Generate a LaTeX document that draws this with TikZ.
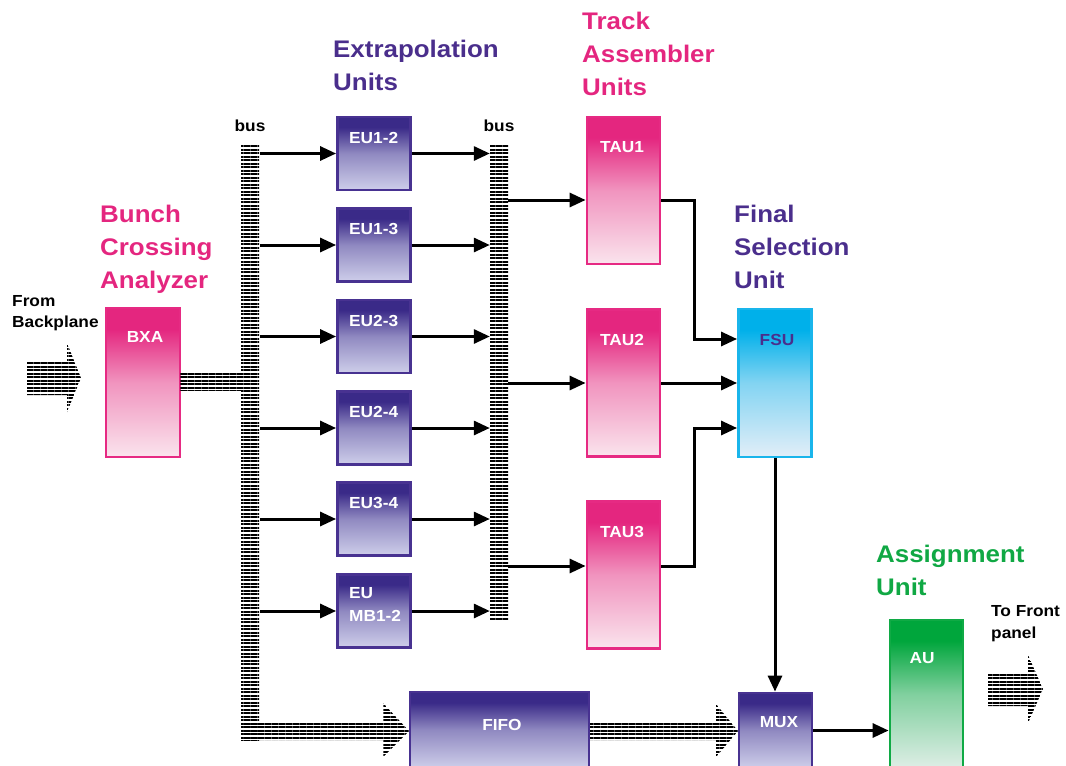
\documentclass[tikz,border=0pt]{standalone}
\usepackage{fontspec}
\setmainfont{Liberation Sans}[FakeStretch=1.08]
\usetikzlibrary{arrows.meta,patterns.meta,calc}
\definecolor{pinkD}{RGB}{228,38,127}
\definecolor{pinkL}{RGB}{250,228,237}
\definecolor{purpD}{RGB}{58,42,136}
\definecolor{purpL}{RGB}{206,206,234}
\definecolor{cyanD}{RGB}{0,176,234}
\definecolor{cyanL}{RGB}{226,238,248}
\definecolor{greenD}{RGB}{0,166,60}
\definecolor{greenL}{RGB}{222,238,230}
\definecolor{purpT}{RGB}{74,46,140}
\definecolor{pinkB}{RGB}{230,42,131}
\definecolor{purpB}{RGB}{72,50,145}
\definecolor{cyanB}{RGB}{25,181,235}
\definecolor{greenB}{RGB}{16,170,69}
\definecolor{greenT}{RGB}{16,168,68}
\colorlet{pinkM}{pinkD!42!pinkL}
\colorlet{purpM}{purpD!42!purpL}
\colorlet{cyanM}{cyanD!42!cyanL}
\colorlet{greenM}{greenD!42!greenL}
\pgfdeclareverticalshading{pinksh}{100bp}{color(0bp)=(pinkL); color(25bp)=(pinkL); color(50bp)=(pinkM); color(68bp)=(pinkD); color(100bp)=(pinkD)}
\pgfdeclareverticalshading{purpsh}{100bp}{color(0bp)=(purpL); color(25bp)=(purpL); color(50bp)=(purpM); color(68bp)=(purpD); color(100bp)=(purpD)}
\pgfdeclareverticalshading{cyansh}{100bp}{color(0bp)=(cyanL); color(25bp)=(cyanL); color(50bp)=(cyanM); color(68bp)=(cyanD); color(100bp)=(cyanD)}
\pgfdeclareverticalshading{greensh}{100bp}{color(0bp)=(greenL); color(25bp)=(greenL); color(50bp)=(greenM); color(68bp)=(greenD); color(100bp)=(greenD)}
\tikzset{
  box/.style={minimum width=73pt, line width=2.8pt, inner sep=0pt, shade},
  pinkbox/.style={box, draw=pinkB, shading=pinksh},
  purpbox/.style={box, draw=purpB, shading=purpsh},
  cyanbox/.style={box, draw=cyanB, shading=cyansh},
  greenbox/.style={box, draw=greenB, shading=greensh},
  eubox/.style={purpbox, minimum height=73pt},
  taubox/.style={pinkbox, minimum height=147pt},
  hatch/.style={pattern={Lines[angle=0,distance=3.5pt,line width=2pt]}},
  busbar/.style={hatch, minimum width=18pt, inner sep=0pt},
  conn/.style={line width=3pt, -{Triangle[length=16pt,width=14pt]}},
  lbl/.style={font=\bfseries\fontsize{16}{19}\selectfont, text=white, inner sep=0pt, anchor=base},
  lbll/.style={lbl, anchor=base west},
  hd/.style={font=\bfseries\fontsize{24}{33}\selectfont, inner sep=0pt, anchor=base west},
  sm/.style={font=\bfseries\fontsize{16}{21}\selectfont, inner sep=0pt, anchor=base west},
}
\begin{document}
\begin{tikzpicture}[x=1pt,y=-1pt]
\path[use as bounding box] (0,0) rectangle (1066,766);
\clip (0,0) rectangle (1066,766);

% headings
\node[hd, text=purpT] (hEU1) at (333,57) {Extrapolation};
\node[hd, text=purpT] (hEU2) at (333,90) {Units};
\node[hd, text=pinkD] (hTA1) at (582,29) {Track};
\node[hd, text=pinkD] (hTA2) at (582,62) {Assembler};
\node[hd, text=pinkD] (hTA3) at (582,95) {Units};
\node[hd, text=pinkD] (hBC1) at (100,222) {Bunch};
\node[hd, text=pinkD] (hBC2) at (100,255) {Crossing};
\node[hd, text=pinkD] (hBC3) at (100,288) {Analyzer};
\node[hd, text=purpT] (hFS1) at (734,222) {Final};
\node[hd, text=purpT] (hFS2) at (734,255) {Selection};
\node[hd, text=purpT] (hFS3) at (734,288) {Unit};
\node[hd, text=greenT] (hAU1) at (876,562) {Assignment};
\node[hd, text=greenT] (hAU2) at (876,595) {Unit};

% small texts
\node[sm] (fb1) at (12,306) {From};
\node[sm] (fb2) at (12,327) {Backplane};
\node[sm] (tf1) at (991,616) {To Front};
\node[sm] (tf2) at (991,638) {panel};
\node[sm, anchor=base] (busl1) at (250,131) {bus};
\node[sm, anchor=base] (busl2) at (499,131) {bus};

% boxes
\node[pinkbox, minimum width=74pt, minimum height=149pt] (bxa) at (143,382.5) {};
\node[eubox] (eu12) at (374,153.5) {};
\node[eubox] (eu13) at (374,245) {};
\node[eubox] (eu23) at (374,336.5) {};
\node[eubox] (eu24) at (374,428) {};
\node[eubox] (eu34) at (374,519) {};
\node[eubox] (eumb) at (374,611) {};
\node[taubox] (tau1) at (623.5,190.5) {};
\node[taubox] (tau2) at (623.5,383) {};
\node[taubox] (tau3) at (623.5,575) {};
\node[cyanbox, minimum height=148pt] (fsu) at (775,383) {};
\node[purpbox, minimum width=179pt, minimum height=76pt] (fifo) at (499.5,730) {};
\node[purpbox, minimum height=75pt] (mux) at (775.5,730.5) {};
\node[greenbox, minimum height=148pt] (au) at (926.5,694) {};

% box labels
\node[lbl] (bxat) at (145,342) {BXA};
\node[lbll] (eu12t) at (349,143) {EU1-2};
\node[lbll] (eu13t) at (349,234) {EU1-3};
\node[lbll] (eu23t) at (349,326) {EU2-3};
\node[lbll] (eu24t) at (349,417) {EU2-4};
\node[lbll] (eu34t) at (349,508) {EU3-4};
\node[lbll] (eumbt1) at (349,598) {EU};
\node[lbll] (eumbt2) at (349,621) {MB1-2};
\node[lbl] (tau1t) at (622,152) {TAU1};
\node[lbl] (tau2t) at (622,345) {TAU2};
\node[lbl] (tau3t) at (622,537) {TAU3};
\node[lbl, text=purpT] (fsut) at (777,345) {FSU};
\node[lbl] (fifot) at (502,730) {FIFO};
\node[lbl] (muxt) at (779,727) {MUX};
\node[lbl] (aut) at (922,663) {AU};

% buses
\node[busbar, minimum height=595pt] (bus1) at (250,442.5) {};
\node[busbar, minimum height=475pt] (bus2) at (499,382.5) {};

% hatched arrows
\path[hatch] (27,362) -- (67,362) -- (67,343) -- (81,378) -- (67,412) -- (67,395) -- (27,395) -- cycle;
\path[hatch] (180,373) rectangle (242,390);
\path[hatch] (242,722) -- (383,722) -- (383,703) -- (409,731) -- (383,757) -- (383,740) -- (242,740) -- cycle;
\path[hatch] (590,722) -- (716,722) -- (716,704) -- (738,731) -- (716,757) -- (716,740) -- (590,740) -- cycle;
\path[hatch] (988,673) -- (1028,673) -- (1028,655) -- (1043,689) -- (1028,723) -- (1028,706) -- (988,706) -- cycle;

% bus -> EU -> bus
\foreach \e in {eu12,eu13,eu23,eu24,eu34,eumb}{
  \draw[conn] (bus1.east |- \e.west) -- (\e.west);
  \draw[conn] (\e.east) -- (bus2.west |- \e.east);
}

% bus -> TAU
\coordinate (t1y) at ($(tau1.west)+(0,9.5)$);
\coordinate (t2y) at (tau2.west);
\coordinate (t3y) at ($(tau3.west)+(0,-9)$);
\draw[conn] (bus2.east |- t1y) -- (t1y);
\draw[conn] (bus2.east |- t2y) -- (t2y);
\draw[conn] (bus2.east |- t3y) -- (t3y);

% TAU -> FSU
\coordinate (jx) at (694,0);
\coordinate (f1) at ($(fsu.west)+(0,-44)$);
\coordinate (f3) at ($(fsu.west)+(0,45)$);
\draw[conn] (tau1.east |- t1y) -| (jx |- f1) -- (f1);
\draw[conn] (tau2.east) -- (fsu.west |- tau2.east);
\draw[conn] (tau3.east |- t3y) -| (jx |- f3) -- (f3);

% FSU -> MUX -> AU
\draw[conn] (fsu.south) -- (fsu.south |- mux.north);
\draw[conn] (mux.east) -- (au.west |- mux.east);
\end{tikzpicture}
\end{document}
